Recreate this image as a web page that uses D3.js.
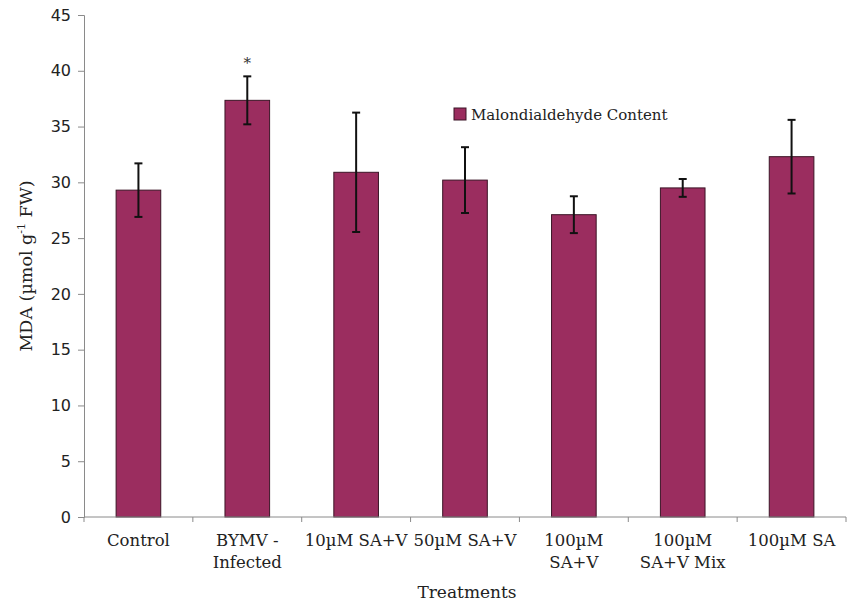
<!DOCTYPE html>
<html><head><meta charset="utf-8">
<script src="https://cdn.jsdelivr.net/npm/d3@7"></script>
<style>body{margin:0;background:#fff}svg{display:block}</style>
</head><body>
<script>
const categories = [["Control"],["BYMV -","Infected"],["10\u00b5M SA+V"],["50\u00b5M SA+V"],["100\u00b5M","SA+V"],["100\u00b5M","SA+V Mix"],["100\u00b5M SA"]];
const values = [29.3, 37.35, 30.9, 30.2, 27.1, 29.5, 32.3];
const errors = [2.4, 2.15, 5.35, 2.95, 1.65, 0.8, 3.3];
const yTicks = [0,5,10,15,20,25,30,35,40,45];
const seriesName = "Malondialdehyde Content";

const W=849,H=604;
const m={left:84,right:3,top:15,bottom:87};
const svg=d3.select("body").append("svg").attr("width",W).attr("height",H);
const x=d3.scaleBand().domain(d3.range(categories.length)).range([m.left,W-m.right]).padding(0);
const y=d3.scaleLinear().domain([0,45]).range([H-m.bottom,m.top]);
const barColor="#9b2d5f", axisColor="#8a8a8a";
const serif="'DejaVu Serif',Georgia,serif";

// bars
const bw=x.bandwidth()*0.41;
svg.append("g").selectAll("rect").data(values).join("rect")
 .attr("x",(d,i)=>x(i)+x.bandwidth()/2-bw/2).attr("y",d=>y(d))
 .attr("width",bw).attr("height",d=>y(0)-y(d))
 .attr("fill",barColor).attr("stroke","#3b1526").attr("stroke-width",1);

// error bars
const eg=svg.append("g").attr("stroke","#111").attr("stroke-width",2);
values.forEach((v,i)=>{
  const cx=x(i)+x.bandwidth()/2;
  eg.append("line").attr("x1",cx).attr("x2",cx).attr("y1",y(v+errors[i])).attr("y2",y(v-errors[i]));
  eg.append("line").attr("x1",cx-4).attr("x2",cx+4).attr("y1",y(v+errors[i])).attr("y2",y(v+errors[i]));
  eg.append("line").attr("x1",cx-4).attr("x2",cx+4).attr("y1",y(v-errors[i])).attr("y2",y(v-errors[i]));
});
// asterisk
svg.append("text").attr("x",x(1)+x.bandwidth()/2).attr("y",y(values[1]+errors[1])-8)
 .attr("text-anchor","middle").attr("font-family",serif).attr("font-size",15).attr("fill","#333").text("*");

// y axis
const ya=svg.append("g").attr("transform",`translate(${m.left},0)`)
 .call(d3.axisLeft(y).tickValues(yTicks).tickSize(6).tickPadding(7));
ya.select(".domain").attr("stroke",axisColor);
ya.selectAll(".tick line").attr("stroke",axisColor);
ya.selectAll("text").attr("font-family","'DejaVu Sans',Verdana,sans-serif").attr("font-size",16).attr("fill","#222");

// x axis
const xa=svg.append("g").attr("transform",`translate(0,${y(0)})`);
xa.append("line").attr("x1",m.left).attr("x2",W-m.right).attr("stroke",axisColor);
d3.range(categories.length+1).forEach(i=>{
  const px=i<categories.length?x(i):x(categories.length-1)+x.bandwidth();
  xa.append("line").attr("x1",px).attr("x2",px).attr("y1",0).attr("y2",5).attr("stroke",axisColor);
});
categories.forEach((lines,i)=>{
  const t=xa.append("text").attr("text-anchor","middle").attr("font-family",serif)
   .attr("font-size",16.5).attr("fill","#222");
  lines.forEach((l,j)=>t.append("tspan").attr("x",x(i)+x.bandwidth()/2).attr("y",29+j*22).text(l));
});

// axis titles
svg.append("text").attr("x",467).attr("y",598).attr("text-anchor","middle")
 .attr("font-family",serif).attr("font-size",17).attr("fill","#222").text("Treatments");
const yt=svg.append("text").attr("transform","translate(32,266) rotate(-90)").attr("text-anchor","middle")
 .attr("font-family",serif).attr("font-size",17.5).attr("fill","#222");
yt.append("tspan").text("MDA (\u00b5mol g");
yt.append("tspan").attr("font-size",11).attr("dy",-7).text("-1");
yt.append("tspan").attr("dy",7).text(" FW)");

// legend
const lg=svg.append("g").attr("transform","translate(454,108)");
lg.append("rect").attr("width",12).attr("height",12).attr("fill",barColor).attr("stroke","#3b1526");
lg.append("text").attr("x",17).attr("y",12).attr("font-family",serif).attr("font-size",15).attr("fill","#222").text(seriesName);
</script>
</body></html>
